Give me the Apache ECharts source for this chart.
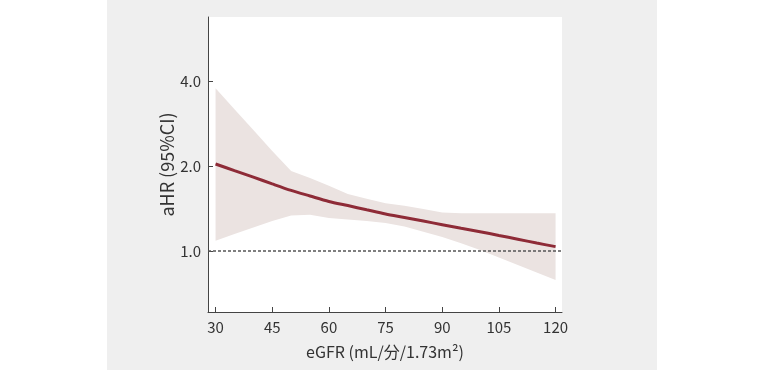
<!DOCTYPE html>
<html>
<head>
<meta charset="utf-8">
<script src="https://cdn.jsdelivr.net/npm/echarts@6/dist/echarts.min.js"></script>
<style>
html,body{margin:0;padding:0;background:#fff;}
#chart{width:765px;height:370px;}
</style>
</head>
<body>
<div id="chart"></div>
<script>
// eGFR values
var egfr = [30,35,40,45,50,55,60,65,70,75,80,85,90,95,100,105,110,115,120];
// adjusted hazard ratio (estimate)
var ahr = [2.033,1.926,1.826,1.728,1.639,1.566,1.498,1.448,1.399,1.352,1.314,1.276,1.239,1.203,1.170,1.135,1.101,1.067,1.036];
// 95% CI upper bound
var ciUpper = [3.769,3.178,2.683,2.262,1.920,1.814,1.703,1.592,1.530,1.477,1.446,1.407,1.370,1.360,1.360,1.360,1.360,1.360,1.360];
// 95% CI lower bound
var ciLower = [1.088,1.148,1.210,1.277,1.335,1.345,1.309,1.293,1.277,1.256,1.221,1.170,1.121,1.066,1.008,0.948,0.892,0.839,0.789];
// tick labels
var xTicks = [30,45,60,75,90,105,120];
var yTicks = [1,2,4];
var refValue = 1.0;

var font = '"Noto Sans CJK JP","Noto Sans",sans-serif';
var chart = echarts.init(document.getElementById('chart'), null, {renderer:'canvas'});

var lineData = egfr.map(function(x,i){return [x, ahr[i]];});
var bandData = egfr.map(function(x,i){return [x, ciUpper[i], ciLower[i]];});

var option = {
  animation:false,
  backgroundColor:'#ffffff',
  graphic:[{
    type:'rect', z:-10, silent:true,
    shape:{x:107,y:0,width:550,height:370},
    style:{fill:'#efefef'}
  }],
  grid:{left:208,right:203,top:17,bottom:58,show:true,backgroundColor:'#ffffff',borderWidth:0},
  xAxis:{
    type:'value', min:28, max:121.7,
    name:'eGFR (mL/分/1.73m²)', nameLocation:'middle', nameGap:32,
    nameTextStyle:{fontFamily:font,fontSize:16,color:'#333'},
    axisLine:{show:true,lineStyle:{color:'#444',width:1}},
    axisTick:{show:true,inside:true,length:5,lineStyle:{color:'#444'},customValues:xTicks},
    axisLabel:{fontFamily:font,fontSize:15,color:'#333',margin:8,customValues:xTicks},
    splitLine:{show:false}
  },
  yAxis:{
    type:'log', logBase:2, min:0.608, max:6.74,
    name:'aHR (95%CI)', nameLocation:'middle', nameGap:28, nameRotate:90,
    nameTextStyle:{fontFamily:font,fontSize:18,color:'#333'},
    axisLine:{show:true,lineStyle:{color:'#444',width:1}},
    axisTick:{show:true,inside:true,length:5,lineStyle:{color:'#444'},customValues:yTicks},
    axisLabel:{fontFamily:font,fontSize:15,color:'#333',margin:7,customValues:yTicks,
      formatter:function(v){return Number(v).toFixed(1);}},
    splitLine:{show:false}
  },
  series:[
    {
      type:'custom', z:1, silent:true,
      data:bandData,
      renderItem:function(params, api){
        if(params.dataIndex !== 0) return;
        var pts = [];
        for(var i=0;i<bandData.length;i++){ pts.push(api.coord([bandData[i][0], bandData[i][1]])); }
        for(var j=bandData.length-1;j>=0;j--){ pts.push(api.coord([bandData[j][0], bandData[j][2]])); }
        return {type:'polygon', shape:{points:pts}, style:{fill:'#ebe3e1', stroke:null}};
      },
      encode:{x:0,y:1}
    },
    {
      type:'line', z:3, data:[[28,refValue],[121.7,refValue]],
      symbol:'none', silent:true,
      lineStyle:{color:'#555',width:1.5,type:[3,2]}
    },
    {
      type:'line', z:4, data:lineData, symbol:'none', smooth:0.3, silent:true,
      lineStyle:{color:'#8e2b37',width:3}
    }
  ]
};
chart.setOption(option);
</script>
</body>
</html>
